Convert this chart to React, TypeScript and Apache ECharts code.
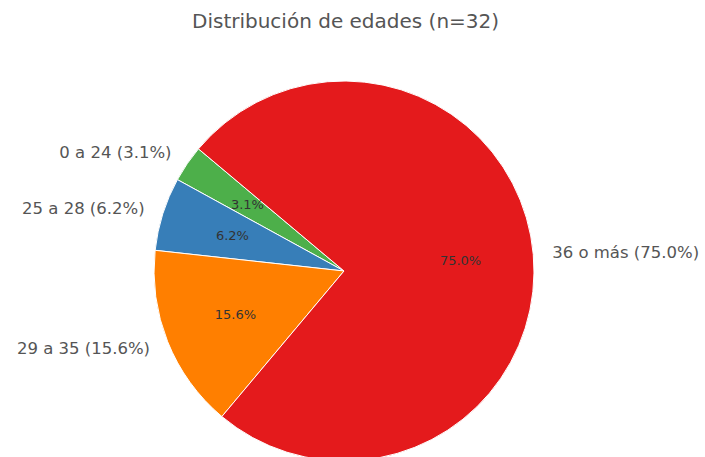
import React, { useEffect, useRef } from "react";
import * as echarts from "echarts";

const categories = ["0 a 24", "25 a 28", "29 a 35", "36 o más"];
const counts = [1, 2, 5, 24];
const percentLabels = ["3.1%", "6.2%", "15.6%", "75.0%"];
const colors = ["#4daf4a", "#377eb8", "#ff7f00", "#e41a1c"];
const titleText = "Distribución de edades (n=32)";

export default function App() {
  const ref = useRef<HTMLDivElement>(null);
  useEffect(() => {
    if (!ref.current) return;
    const chart = echarts.init(ref.current, undefined, { renderer: "svg" });
    const R = 190;
    const center = [344, 271];
    const font = "DejaVu Sans";
    const data = categories.map((c, i) => ({
      name: c,
      value: counts[i],
      itemStyle: { color: colors[i] },
    }));
    chart.setOption({
      animation: false,
      title: {
        text: titleText,
        left: 187,
        top: 6,
        textStyle: { fontFamily: font, fontSize: 20, fontWeight: "normal", color: "#555" },
      },
      series: [
        {
          type: "pie",
          center,
          radius: [0, R],
          startAngle: 140,
          clockwise: false,
          avoidLabelOverlap: false,
          silent: true,
          itemStyle: { borderColor: "#ffffff", borderWidth: 1 },
          label: {
            show: true,
            position: "outside",
            distanceToLabelLine: 0,
            fontFamily: font,
            fontSize: 16.5,
            color: "#555",
            formatter: (p: any) => `${categories[p.dataIndex]} (${percentLabels[p.dataIndex]})`,
          },
          labelLine: { show: false, length: R * 0.1, length2: 0 },
          data,
        },
        {
          type: "pie",
          center,
          radius: [R * 0.2, R],
          startAngle: 140,
          clockwise: false,
          avoidLabelOverlap: false,
          silent: true,
          itemStyle: { color: "rgba(0,0,0,0)", borderWidth: 0 },
          label: {
            show: true,
            position: "inside",
            fontFamily: font,
            fontSize: 13,
            color: "#333",
            formatter: (p: any) => percentLabels[p.dataIndex],
          },
          labelLine: { show: false },
          data: categories.map((c, i) => ({ name: c, value: counts[i] })),
        },
      ],
    });
    return () => chart.dispose();
  }, []);
  return (
    <div
      ref={ref}
      style={{ position: "fixed", left: 0, top: 0, width: 705, height: 457, background: "#fff" }}
    />
  );
}
